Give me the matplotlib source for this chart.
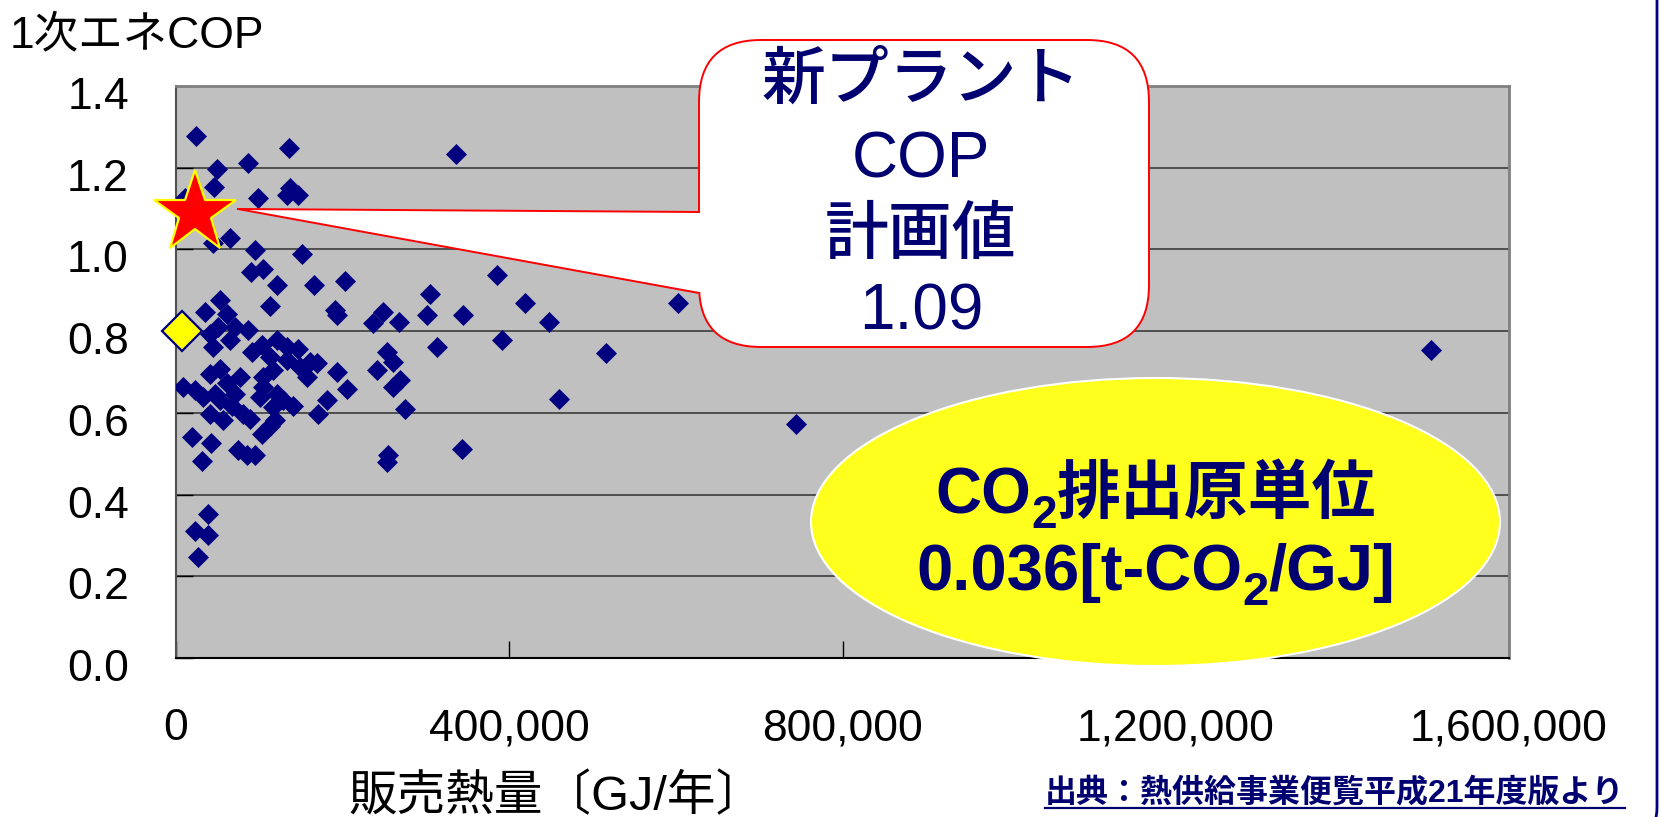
import matplotlib
matplotlib.use('Agg')
import matplotlib.pyplot as plt
from matplotlib.patches import FancyBboxPatch, Ellipse, Polygon
from matplotlib.lines import Line2D
from matplotlib.ticker import FuncFormatter
from matplotlib.transforms import ScaledTranslation

plt.rcParams['font.family'] = ['Liberation Sans', 'Noto Sans CJK JP', 'DejaVu Sans']

# ---- data: 販売熱量 [GJ/年] と 1次エネCOP（地域冷暖房プラント） ----
heat = [23600, 136000, 49600, 86800, 45600, 98800, 133000, 146000, 137000, 10800,
        44400, 64800, 94800, 150800, 90500, 104400, 120800, 166000, 203000, 113300,
        190800, 193000, 305000, 301000, 249000, 237000, 268000, 313000, 345000,
        52800, 34800, 60800, 50800, 70800, 40800, 86800, 44800, 64800,
        90800, 102800, 120800, 132800, 146800, 112800, 160800,
        40800, 52800, 76800, 60800, 46800, 22800, 8800, 32800, 70800,
        104800, 116800, 132800, 148800, 156800, 168800,
        104800, 120800, 100800, 116800, 140800, 128800,
        40800, 56800, 80800, 88800, 66800, 52800,
        112800, 102800, 118800,
        193000, 205000, 181000, 171000,
        253000, 261000, 241000, 269000, 261000, 275000,
        19600, 42000, 30800, 74800, 84800, 94800, 255000, 253000,
        38800, 22800, 38800, 26800,
        335700, 384700, 418900, 448000, 391600, 516000, 603000, 459600, 343000,
        743800, 1506000]
cop = [1.278, 1.249, 1.197, 1.211, 1.153, 1.127, 1.133, 1.133, 1.150, 1.125,
       1.015, 1.028, 0.998, 0.990, 0.945, 0.953, 0.914, 0.914, 0.922, 0.861,
       0.851, 0.839, 0.892, 0.839, 0.847, 0.819, 0.823, 0.761, 0.839,
       0.876, 0.847, 0.843, 0.810, 0.810, 0.794, 0.802, 0.761, 0.778,
       0.749, 0.765, 0.778, 0.761, 0.757, 0.737, 0.724,
       0.696, 0.708, 0.688, 0.672, 0.647, 0.655, 0.663, 0.639, 0.647,
       0.688, 0.704, 0.729, 0.712, 0.688, 0.721,
       0.663, 0.647, 0.639, 0.614, 0.618, 0.631,
       0.598, 0.582, 0.598, 0.586, 0.618, 0.631,
       0.569, 0.549, 0.582,
       0.700, 0.659, 0.631, 0.598,
       0.749, 0.724, 0.704, 0.680, 0.663, 0.610,
       0.541, 0.526, 0.481, 0.508, 0.496, 0.496, 0.496, 0.479,
       0.353, 0.312, 0.300, 0.247,
       1.233, 0.937, 0.869, 0.823, 0.778, 0.747, 0.869, 0.633, 0.511,
       0.572, 0.753]

own_heat = [6800]      # 黄色のひし形
own_cop = [0.80]
new_heat = [22800]     # 新プラント（星）
new_cop = [1.09]

x_ticks = [0, 400000, 800000, 1200000, 1600000]
y_ticks = [0.0, 0.2, 0.4, 0.6, 0.8, 1.0, 1.2, 1.4]

NAVY = '#000080'
TXT = '#000070'
W, H = 1660, 817


def px(x, y):
    """画像ピクセル（左上原点）→ インチ（左下原点）"""
    return x / 100, (H - y) / 100


fig = plt.figure(figsize=(W / 100, H / 100), dpi=100)
tr = fig.dpi_scale_trans
ax = fig.add_axes([176 / W, 1 - 658 / H, 1333 / W, 572 / H])
ax.set_facecolor('#C0C0C0')
ax.set_xlim(0, 1600000)
ax.set_ylim(0, 1.4)
ax.set_xticks(x_ticks)
ax.set_yticks(y_ticks)
ax.xaxis.set_major_formatter(FuncFormatter(lambda v, p: '{:,.0f}'.format(v)))
ax.yaxis.set_major_formatter(FuncFormatter(lambda v, p: '%.1f' % v))
ax.tick_params(direction='in', length=12, width=1, color='black',
               labelsize=32, pad=36)
ax.tick_params(axis='y', pad=34)
ax.yaxis.grid(True, color='#303030', lw=1.1)
ax.set_axisbelow(True)
for side in ('top', 'right'):
    ax.spines[side].set_color('#808080')
    ax.spines[side].set_linewidth(2)
ax.spines['left'].set_color('#505050')
ax.spines['left'].set_linewidth(1.5)
ax.spines['bottom'].set_color('black')
ax.spines['bottom'].set_linewidth(1.5)

shift = ScaledTranslation(0, -7 / 100, tr)
for lab in ax.get_yticklabels():
    lab.set_transform(lab.get_transform() + shift)

ax.plot(heat, cop, 'D', ms=10.3, color=NAVY, mec=NAVY, mew=0.5, zorder=3)
ax.plot(own_heat, own_cop, 'D', ms=20, mfc='#FFFF00', mec=NAVY, mew=1.6,
        clip_on=False, zorder=4)
ax.plot(new_heat, new_cop, '*', ms=62, mfc='#FF0000', mec='#FFFF00', mew=1.6,
        clip_on=False, zorder=5)

# ---- 吹き出し（新プラント COP 計画値） ----
x0, y0 = px(699, 347)
x1, y1 = px(1149, 40)
box = FancyBboxPatch((x0, y0), x1 - x0, y1 - y0,
                     boxstyle='round,pad=0,rounding_size=0.62',
                     fc='white', ec='#FF0000', lw=1.4, transform=tr, zorder=2)
fig.add_artist(box)
tip = px(238, 209)
b_up = px(699, 212)
b_lo = px(699, 293)
tail = Polygon([tip, (b_up[0] + 0.05, b_up[1]), (b_lo[0] + 0.05, b_lo[1])],
               closed=True, fc='white', ec='none', transform=tr, zorder=3)
fig.add_artist(tail)
for b in (b_up, b_lo):
    fig.add_artist(Line2D([tip[0], b[0]], [tip[1], b[1]], color='#FF0000',
                          lw=1.4, transform=tr, zorder=4))

cx = 921 / 100
for txt, ybase, wt in (('新プラント', 99, 'medium'), ('COP', 177, 'normal'),
                       ('計画値', 254, 'medium'), ('1.09', 330, 'normal')):
    fig.text(cx, (H - ybase) / 100, txt, transform=tr, ha='center',
             va='baseline', fontsize=46, color=TXT, fontweight=wt, zorder=5)

# ---- 楕円（CO2排出原単位） ----
ell = Ellipse(px(1155.5, 522), 6.89, 2.88, fc='#FFFF1E', ec='white', lw=1.5,
              transform=tr, zorder=2)
fig.add_artist(ell)

renderer = fig.canvas.get_renderer()


def rich_line(xc, ybase, parts):
    """(文字列, サイズ, 下げ量px) を左から並べて中央揃え（下付き文字用）"""
    arts = [fig.text(0, 0, s, transform=tr, fontsize=size, ha='left',
                     va='baseline', color=TXT, fontweight='bold', zorder=5)
            for s, size, _ in parts]
    widths = [t.get_window_extent(renderer).width / 100 for t in arts]
    x = xc - sum(widths) / 2
    for t, (_, _, dy), w in zip(arts, parts, widths):
        t.set_position((x, (H - ybase - dy) / 100))
        x += w


rich_line(11.56, 513, [('CO', 46, 0), ('2', 33, 15), ('排出原単位', 46, 0)])
rich_line(11.56, 590, [('0.036[t-CO', 47, 0), ('2', 34, 15), ('/GJ]', 47, 0)])

# ---- 軸ラベル・出典 ----
fig.text(0.10, (H - 47) / 100, '1次エネCOP', transform=tr, ha='left',
         va='baseline', fontsize=32, color='black')
fig.text(5.57, (H - 810) / 100, '販売熱量〔GJ/年〕', transform=tr, ha='center',
         va='baseline', fontsize=35, color='black')
src = fig.text(13.35, (H - 801) / 100, '出典：熱供給事業便覧平成21年度版より',
               transform=tr, ha='center', va='baseline', fontsize=23,
               color=TXT, fontweight='bold')

# スライド枠（右端）
frame = FancyBboxPatch((-1, -0.3), 17.57, 10, boxstyle='round,pad=0,rounding_size=0.4',
                       fc='none', ec=NAVY, lw=2, transform=tr, zorder=6)
fig.add_artist(frame)

fig.canvas.draw()
bb = src.get_window_extent()
uy = (H - 808) / 100
fig.add_artist(Line2D([bb.x0 / 100, bb.x1 / 100], [uy, uy], color=TXT, lw=1.6,
                      transform=tr))

fig.savefig('out.png', dpi=100)
